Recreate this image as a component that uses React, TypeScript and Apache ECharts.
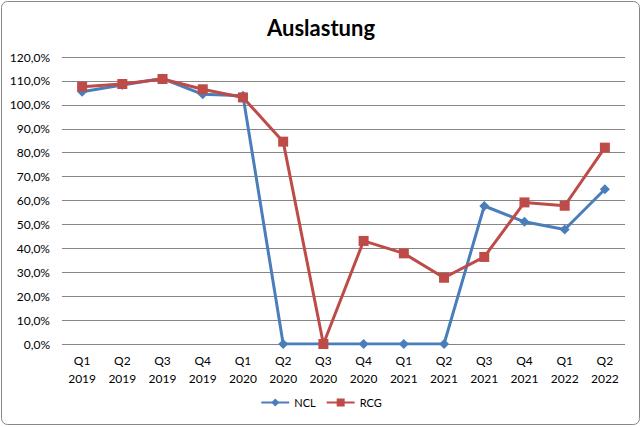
import React, { useEffect, useRef } from "react";
import * as echarts from "echarts";

const categories = [
  "Q1\n2019", "Q2\n2019", "Q3\n2019", "Q4\n2019",
  "Q1\n2020", "Q2\n2020", "Q3\n2020", "Q4\n2020",
  "Q1\n2021", "Q2\n2021", "Q3\n2021", "Q4\n2021",
  "Q1\n2022", "Q2\n2022",
];
const ncl = [105.5, 108.3, 111.0, 104.4, 103.8, 0, 0, 0, 0, 0, 57.7, 51.1, 47.9, 64.7];
const rcg = [107.6, 108.7, 110.8, 106.5, 103.1, 84.6, 0, 43.1, 37.9, 27.7, 36.4, 59.2, 57.8, 82.1];
const title = "Auslastung";

const FONT = "Lato, 'Open Sans', sans-serif";

export default function App() {
  const ref = useRef<HTMLDivElement>(null);
  useEffect(() => {
    document.body.style.margin = "0";
    const chart = echarts.init(ref.current!, null, { renderer: "svg" });
    chart.setOption({
      animation: false,
      backgroundColor: "#ffffff",
      textStyle: { fontFamily: FONT },
      title: {
        text: title,
        left: "center",
        top: 11,
        textStyle: { fontSize: 22, fontWeight: "bold", color: "#000", fontFamily: FONT },
      },
      graphic: [
        {
          type: "rect",
          shape: { x: 1.5, y: 1.5, width: 638, height: 423, r: 6 },
          style: { fill: "none", stroke: "#868686", lineWidth: 1 },
          silent: true,
        },
      ],
      grid: { left: 62, right: 17, top: 57, bottom: 83, containLabel: false },
      legend: {
        bottom: 14,
        left: "center",
        itemWidth: 28,
        itemHeight: 10,
        itemGap: 10,
        textStyle: { fontSize: 11, color: "#000", fontFamily: FONT },
        data: ["NCL", "RCG"],
      },
      xAxis: {
        type: "category",
        data: categories,
        boundaryGap: true,
        axisLine: { show: false },
        axisTick: { show: false },
        axisLabel: { color: "#000", fontSize: 12, lineHeight: 18, margin: 7, interval: 0, fontFamily: FONT },
      },
      yAxis: {
        type: "value",
        min: 0,
        max: 120,
        interval: 10,
        axisLine: { show: false },
        axisTick: { show: false },
        splitLine: { lineStyle: { color: "#868686", width: 1 } },
        axisLabel: {
          color: "#000",
          fontSize: 12,
          margin: 12,
          fontFamily: FONT,
          formatter: (v: number) => v.toFixed(1).replace(".", ",") + "%",
        },
      },
      series: [
        {
          name: "NCL",
          type: "line",
          data: ncl,
          symbol: "diamond",
          symbolSize: 10,
          lineStyle: { color: "#4A7EBB", width: 3 },
          itemStyle: { color: "#4A7EBB" },
        },
        {
          name: "RCG",
          type: "line",
          data: rcg,
          symbol: "rect",
          symbolSize: 10,
          lineStyle: { color: "#BE4B48", width: 3 },
          itemStyle: { color: "#BE4B48" },
        },
      ],
    });
    return () => chart.dispose();
  }, []);
  return <div ref={ref} style={{ width: 642, height: 427 }} />;
}
